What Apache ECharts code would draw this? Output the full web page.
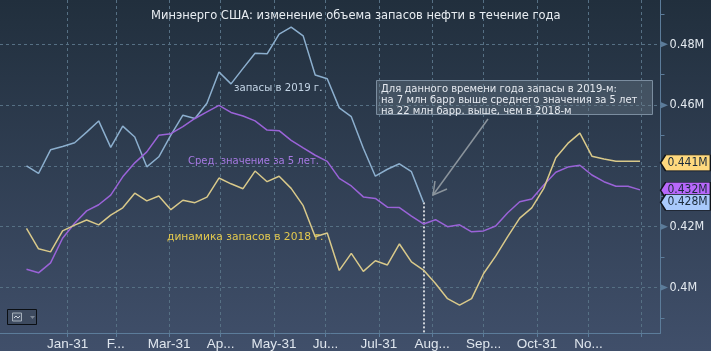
<!DOCTYPE html>
<html>
<head>
<meta charset="utf-8">
<style>
  html, body { margin: 0; padding: 0; background: #2f3e52; }
  #chart { width: 711px; height: 351px; }
</style>
<script src="https://cdn.jsdelivr.net/npm/echarts@6/dist/echarts.min.js"></script>
</head>
<body>
<div id="chart"></div>
<script>
var weekDates = [
  "2019-01-07", "2019-01-14", "2019-01-21", "2019-01-28",
  "2019-02-04", "2019-02-11", "2019-02-18", "2019-02-25",
  "2019-03-04", "2019-03-11", "2019-03-18", "2019-03-25",
  "2019-04-01", "2019-04-08", "2019-04-15", "2019-04-22", "2019-04-29",
  "2019-05-06", "2019-05-13", "2019-05-20", "2019-05-27",
  "2019-06-03", "2019-06-10", "2019-06-17", "2019-06-24",
  "2019-07-01", "2019-07-08", "2019-07-15", "2019-07-22", "2019-07-29",
  "2019-08-05", "2019-08-12", "2019-08-19", "2019-08-26",
  "2019-09-02", "2019-09-09", "2019-09-16", "2019-09-23", "2019-09-30",
  "2019-10-07", "2019-10-14", "2019-10-21", "2019-10-28",
  "2019-11-04", "2019-11-11", "2019-11-18", "2019-11-25",
  "2019-12-02", "2019-12-09", "2019-12-16", "2019-12-23", "2019-12-30"
];

// запасы в 2019 г. (ряд обрывается в августе)
var stocks2019 = [
  0.4400, 0.4375, 0.4453, 0.4464, 0.4476, 0.4511, 0.4548, 0.4461, 0.4531, 0.4495,
  0.4397, 0.4430, 0.4501, 0.4567, 0.4556, 0.4606, 0.4709, 0.4670, 0.4721, 0.4771,
  0.4769, 0.4834, 0.4857, 0.4828, 0.4699, 0.4687, 0.4591, 0.4562, 0.4458, 0.4366,
  0.4389, 0.4407, 0.4381, 0.4280
];

var avg5y = [
  0.4060, 0.4048, 0.4081, 0.4162, 0.4211, 0.4252, 0.4272, 0.4304, 0.4364, 0.4410,
  0.4446, 0.4501, 0.4506, 0.4529, 0.4556, 0.4578, 0.4599, 0.4576, 0.4564, 0.4548,
  0.4518, 0.4516, 0.4484, 0.4459, 0.4435, 0.4415, 0.4359, 0.4334, 0.4298, 0.4293,
  0.4264, 0.4263, 0.4235, 0.4209, 0.4223, 0.4200, 0.4206, 0.4183, 0.4186, 0.4202,
  0.4246, 0.4282, 0.4291, 0.4337, 0.4379, 0.4396, 0.4402, 0.4370, 0.4348, 0.4333,
  0.4333, 0.4321
];

var stocks2018 = [
  0.4194, 0.4127, 0.4117, 0.4186, 0.4205, 0.4222, 0.4206, 0.4238, 0.4262, 0.4310,
  0.4285, 0.4301, 0.4256, 0.4287, 0.4279, 0.4297, 0.4360, 0.4341, 0.4325, 0.4383,
  0.4348, 0.4366, 0.4326, 0.4269, 0.4167, 0.4179, 0.4056, 0.4112, 0.4053, 0.4088,
  0.4074, 0.4143, 0.4084, 0.4057, 0.4013, 0.3963, 0.3942, 0.3963, 0.4046, 0.4103,
  0.4167, 0.4228, 0.4262, 0.4326, 0.4427, 0.4474, 0.4508, 0.4432, 0.4423, 0.4415,
  0.4415, 0.4415
];

var monthTicks = [
  "2019-01-31", "2019-02-28", "2019-03-31", "2019-04-30", "2019-05-31", "2019-06-30",
  "2019-07-31", "2019-08-31", "2019-09-30", "2019-10-31", "2019-11-30", "2019-12-31"
];
var monthLabels = ["Jan-31", "F...", "Mar-31", "Ap...", "May-31", "Ju...", "Jul-31", "Aug...", "Sep...", "Oct-31", "No...", ""];

var yGridValues = [0.4, 0.42, 0.44, 0.46, 0.48];
var yShownLabels = [0.4, 0.42, 0.46, 0.48];
var yMinorValues = [0.39, 0.41, 0.43, 0.45, 0.47, 0.49];

var lastValues = { stocks2018: 0.441, avg5y: 0.432, stocks2019: 0.428 };

var xMin = Date.parse("2018-12-22T14:00:00Z");
var xMax = Date.parse("2020-01-10T22:00:00Z");
var yMin = 0.385;
var yMax = 0.4946;

var FONT = "DejaVu Sans";
var NARROW = "DejaVu Sans Condensed";
var gridColor = "#567084";
var axisColor = "#5c7c9a";

var tickTimes = monthTicks.map(function (d) {
  return Date.parse(d);
});

function pairs(values) {
  return values.map(function (v, i) {
    return [Date.parse(weekDates[i]), v];
  });
}

function labelTag(value, fill) {
  return {
    type: "scatter",
    data: [[xMax, value]],
    clip: false,
    silent: true,
    z: 6,
    symbol: "path://M0,8 L5,0 L49,0 L49,16 L5,16 Z",
    symbolSize: [50, 16],
    symbolKeepAspect: false,
    symbolOffset: [25, 0],
    itemStyle: { color: fill, opacity: 1, borderColor: "#10151c", borderWidth: 1 },
    label: {
      show: true,
      position: "inside",
      offset: [2, 0],
      formatter: value.toFixed(3) + "M",
      color: "#1b2a3a",
      fontFamily: NARROW,
      fontSize: 12
    }
  };
}

// вертикальные и горизонтальные пунктирные линии сетки
var gridLines = [];
tickTimes.forEach(function (t) {
  gridLines.push({ xAxis: t });
});
yGridValues.forEach(function (v) {
  gridLines.push({ yAxis: v });
});

var myChart = echarts.init(document.getElementById("chart"));

var option = {
  animation: false,
  backgroundColor: {
    type: "linear", x: 0, y: 0, x2: 0, y2: 1,
    colorStops: [
      { offset: 0, color: "#212f3d" },
      { offset: 1, color: "#404f6a" }
    ]
  },
  title: {
    text: "Минэнерго США: изменение объема запасов нефти в течение года",
    left: 146,
    top: 5,
    textStyle: { color: "#e8edf2", fontFamily: FONT, fontSize: 11.5, fontWeight: "normal" }
  },
  grid: { left: 0, right: 50.5, top: 0, bottom: 18 },
  xAxis: {
    type: "value",
    min: xMin,
    max: xMax,
    splitLine: { show: false },
    axisLine: { show: true, lineStyle: { color: axisColor } },
    axisTick: { show: true, length: 4, customValues: tickTimes, lineStyle: { color: axisColor } },
    axisLabel: {
      show: true,
      customValues: tickTimes.slice(0, 11),
      margin: 4,
      color: "#dfe6ee",
      fontFamily: "Liberation Sans",
      fontSize: 13.5,
      hideOverlap: false,
      formatter: function (val) {
        return monthLabels[tickTimes.indexOf(val)];
      }
    }
  },
  yAxis: {
    type: "value",
    position: "right",
    min: yMin,
    max: yMax,
    splitLine: { show: false },
    axisLine: { show: true, lineStyle: { color: axisColor } },
    axisTick: { show: true, length: 4, customValues: yMinorValues, lineStyle: { color: axisColor } },
    axisLabel: {
      show: true,
      customValues: yShownLabels,
      margin: 9,
      color: "#e4eaf0",
      fontFamily: NARROW,
      fontSize: 12.5,
      formatter: function (val) {
        return val + "M";
      }
    }
  },
  series: [
    {
      name: "запасы в 2019 г.",
      type: "line",
      data: pairs(stocks2019),
      symbol: "none",
      z: 3,
      lineStyle: { color: "#8cafce", width: 1.5 },
      markLine: {
        silent: true,
        symbol: "none",
        z: 1,
        label: { show: false },
        lineStyle: { color: gridColor, type: [3, 3], width: 1 },
        data: gridLines.concat([
          [
            { coord: [Date.parse(weekDates[33]), stocks2019[33]], lineStyle: { color: "#ffffff", type: [2, 2], width: 1.5 } },
            { coord: [Date.parse(weekDates[33]), yMin] }
          ]
        ])
      }
    },
    {
      name: "Сред. значение за 5 лет.",
      type: "line",
      data: pairs(avg5y),
      symbol: "none",
      z: 3,
      lineStyle: { color: "#9a63d8", width: 1.5 }
    },
    {
      name: "динамика запасов в 2018 г.",
      type: "line",
      data: pairs(stocks2018),
      symbol: "none",
      z: 3,
      lineStyle: { color: "#d9c98a", width: 1.5 }
    },
    {
      // стрелки на правой оси
      type: "scatter",
      data: yGridValues.filter(function (v) { return v != 0.44; }).map(function (v) { return [xMax, v]; }),
      clip: false,
      silent: true,
      z: 4,
      symbol: "triangle",
      symbolSize: [6, 7],
      symbolRotate: -90,
      symbolOffset: [4, 0],
      itemStyle: { color: axisColor, opacity: 1 }
    },
    labelTag(lastValues.stocks2018, "#ffd97e"),
    labelTag(lastValues.avg5y, "#b768fb"),
    labelTag(lastValues.stocks2019, "#a9c9fb")
  ],
  graphic: [
    { type: "text", z: 20, left: 234, top: 83, style: { text: "запасы в 2019 г.", fill: "#c4d5e6", font: "10.2px '" + FONT + "'" } },
    { type: "text", z: 20, left: 188, top: 156, style: { text: "Сред. значение за 5 лет.", fill: "#a679e2", font: "10px '" + FONT + "'" } },
    { type: "text", z: 20, left: 167, top: 232, style: { text: "динамика запасов в 2018 г.", fill: "#e3c94e", font: "10.7px '" + FONT + "'" } },
    {
      type: "rect",
      z: 20,
      shape: { x: 376.5, y: 80.5, width: 276, height: 34 },
      style: { fill: "rgba(110,125,140,0.38)", stroke: "#7b8d9f", lineWidth: 1 }
    },
    {
      type: "text",
      z: 21,
      left: 381,
      top: 84,
      style: {
        text: "Для данного времени года запасы в 2019-м:\nна 7 млн барр выше среднего значения за 5 лет\nна 22 млн барр. выше, чем в 2018-м",
        fill: "#e6eaf0",
        font: "10px '" + FONT + "'",
        lineHeight: 11
      }
    },
    { type: "polyline", z: 20, shape: { points: [[488, 119], [433, 195]] }, style: { stroke: "#8b949c", lineWidth: 1.5, fill: null } },
    { type: "polyline", z: 20, shape: { points: [[435, 181], [433, 195], [447, 189]] }, style: { stroke: "#8b949c", lineWidth: 1.5, fill: null } },
    // кнопка типа графика внизу слева
    { type: "rect", z: 20, shape: { x: 7.5, y: 309.5, width: 29, height: 15 }, style: { fill: "#3d4a5f", stroke: "#0b0f14", lineWidth: 1 } },
    { type: "rect", z: 21, shape: { x: 12.5, y: 313, width: 9, height: 8 }, style: { fill: "#4d5a6f", stroke: "#a5afba", lineWidth: 1 } },
    { type: "polyline", z: 22, shape: { points: [[14, 318], [16, 316], [18, 318], [20, 316]] }, style: { stroke: "#cfd6de", lineWidth: 1, fill: null } },
    { type: "polygon", z: 21, shape: { points: [[30, 316], [35, 316], [32.5, 319]] }, style: { fill: "#7c8694" } }
  ]
};

myChart.setOption(option);
</script>
</body>
</html>
